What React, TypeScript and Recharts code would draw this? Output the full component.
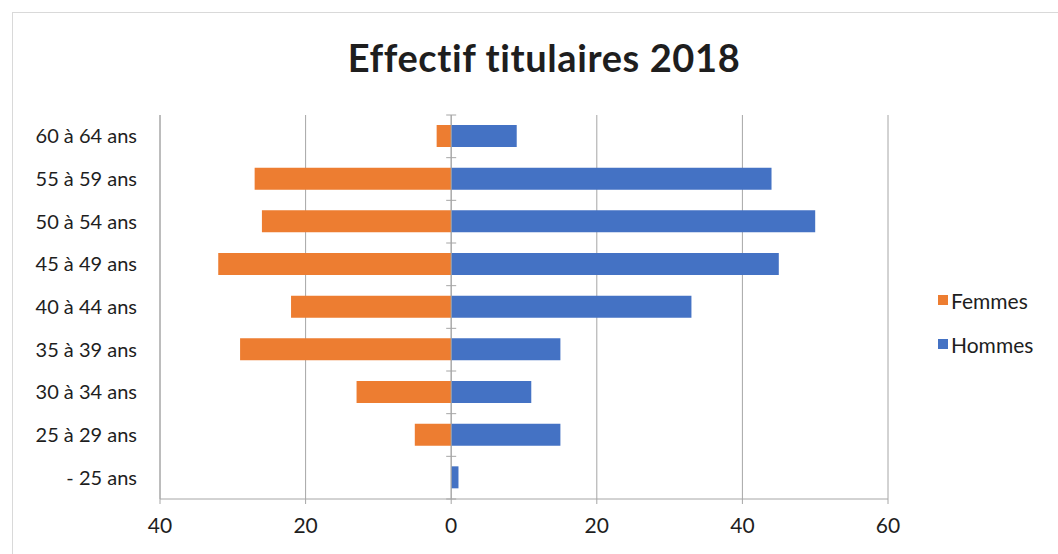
import React from "react";
import {
  BarChart,
  Bar,
  XAxis,
  YAxis,
  CartesianGrid,
  Legend,
  ReferenceLine,
} from "recharts";

const ageGroups = [
  "60 à 64 ans",
  "55 à 59 ans",
  "50 à 54 ans",
  "45 à 49 ans",
  "40 à 44 ans",
  "35 à 39 ans",
  "30 à 34 ans",
  "25 à 29 ans",
  "- 25 ans",
];
const femmes = [2, 27, 26, 32, 22, 29, 13, 5, 0];
const hommes = [9, 44, 50, 45, 33, 15, 11, 15, 1];
const xTicks = [-40, -20, 0, 20, 40, 60];

const data = ageGroups.map((age, i) => ({
  age,
  Femmes: -femmes[i],
  Hommes: hommes[i],
}));

const FONT = "Lato, 'Liberation Sans', sans-serif";
const TEXT = "#1e1e1e";
const GRID = "#a6a6a6";

// zero axis with small ticks between categories, like Excel
const ZeroAxis = (props: any) => {
  const { x1, y1, x2, y2 } = props;
  const n = ageGroups.length;
  const step = (y2 - y1) / n;
  const marks = [];
  for (let i = 0; i <= n; i++) {
    const y = y1 + step * i;
    marks.push(
      <line key={i} x1={x1 - 5} x2={x1 + 5} y1={y} y2={y} stroke={GRID} strokeWidth={1} />
    );
  }
  return (
    <g>
      <line x1={x1} y1={y1} x2={x2} y2={y2} stroke={GRID} strokeWidth={1} />
      {marks}
    </g>
  );
};

const LegendBox = (props: any) => {
  const { payload } = props;
  return (
    <div style={{ fontFamily: FONT }}>
      {(payload || []).map((p: any) => (
        <div
          key={p.value}
          style={{ display: "flex", alignItems: "center", height: 44, fontSize: 21, color: TEXT }}
        >
          <span
            style={{ width: 10, height: 10, background: p.color, marginRight: 3, display: "inline-block" }}
          />
          {p.value}
        </div>
      ))}
    </div>
  );
};

const App = () => {
  return (
    <div
      style={{
        position: "absolute",
        left: 0,
        top: 0,
        width: 1058,
        height: 554,
        background: "#fff",
        fontFamily: FONT,
      }}
    >
      <div
        style={{
          position: "absolute",
          left: 12,
          top: 12,
          width: 1046,
          height: 542,
          borderLeft: "1px solid #d9d9d9",
          borderTop: "1px solid #d9d9d9",
        }}
      />
      <div
        style={{
          position: "absolute",
          left: 0,
          width: 1088,
          top: 34,
          textAlign: "center",
          fontSize: 38,
          fontWeight: 700,
          letterSpacing: 0.6,
          color: TEXT,
        }}
      >
        Effectif titulaires 2018
      </div>
      <div style={{ position: "absolute", left: 0, top: 0 }}>
        <BarChart
          width={1058}
          height={554}
          data={data}
          layout="vertical"
          stackOffset="sign"
          barSize={22}
          margin={{ top: 115, right: 50, bottom: 25, left: 0 }}
        >
          <CartesianGrid horizontal={false} stroke={GRID} />
          <XAxis
            type="number"
            domain={[-40, 60]}
            ticks={xTicks}
            interval={0}
            tickFormatter={(v: number) => String(Math.abs(v))}
            axisLine={{ stroke: GRID }}
            tickLine={{ stroke: GRID }}
            tickSize={5}
            tickMargin={14}
            tick={{ fill: TEXT, fontSize: 21, fontFamily: FONT }}
          />
          <YAxis
            type="category"
            dataKey="age"
            width={160}
            axisLine={{ stroke: GRID }}
            tickLine={false}
            tickMargin={17}
            tick={{ fill: TEXT, fontSize: 20, fontFamily: FONT }}
          />
          <Legend
            layout="vertical"
            align="right"
            verticalAlign="top"
            content={<LegendBox />}
            wrapperStyle={{ position: "absolute", left: 938, top: 278, width: 120, right: "auto" }}
          />
          <Bar dataKey="Femmes" stackId="a" fill="#ED7D31" isAnimationActive={false} />
          <Bar dataKey="Hommes" stackId="a" fill="#4472C4" isAnimationActive={false} />
          <ReferenceLine x={0} shape={ZeroAxis} />
        </BarChart>
      </div>
    </div>
  );
};

export default App;
